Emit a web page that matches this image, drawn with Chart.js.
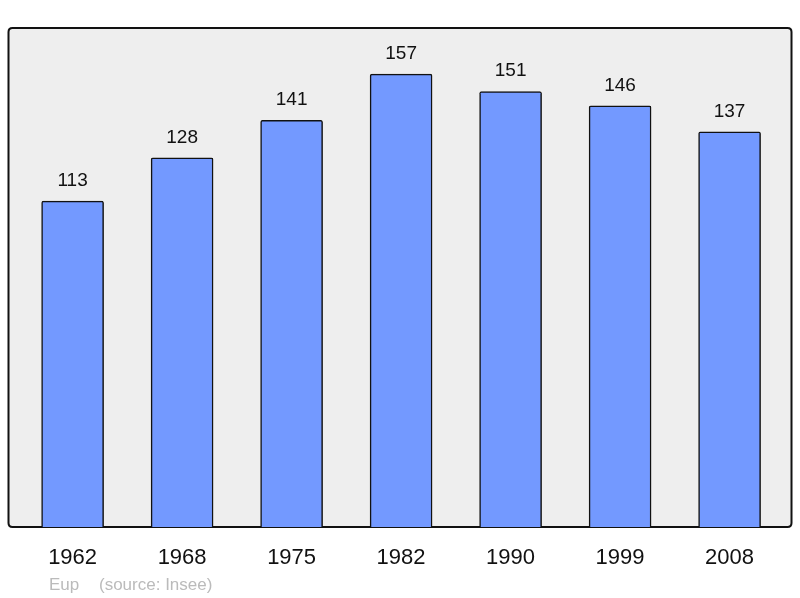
<!DOCTYPE html>
<html>
<head>
<meta charset="utf-8">
<script src="https://cdn.jsdelivr.net/npm/chart.js@4/dist/chart.umd.min.js"></script>
<style>
  html, body { margin: 0; padding: 0; background: #ffffff; }
  #wrap { width: 800px; height: 598px; }
</style>
</head>
<body>
<div id="wrap"><canvas id="c" width="800" height="598"></canvas></div>
<script>
const years = ['1962', '1968', '1975', '1982', '1990', '1999', '2008'];
const population = [113, 128, 141, 157, 151, 146, 137];
const footerName = 'Eup';
const footerSource = '(source: Insee)';

const FONT = '"Liberation Sans", Arial, sans-serif';

const boxPlugin = {
  id: 'box',
  beforeDatasetsDraw(chart) {
    const { ctx, chartArea: a } = chart;
    ctx.save();
    const x = a.left + 0.5, y = a.top, w = a.right - a.left - 1, h = a.bottom - a.top, r = 4;
    ctx.beginPath();
    ctx.moveTo(x + r, y);
    ctx.lineTo(x + w - r, y);
    ctx.quadraticCurveTo(x + w, y, x + w, y + r);
    ctx.lineTo(x + w, y + h - r);
    ctx.quadraticCurveTo(x + w, y + h, x + w - r, y + h);
    ctx.lineTo(x + r, y + h);
    ctx.quadraticCurveTo(x, y + h, x, y + h - r);
    ctx.lineTo(x, y + r);
    ctx.quadraticCurveTo(x, y, x + r, y);
    ctx.closePath();
    ctx.fillStyle = '#eeeeee';
    ctx.fill();
    ctx.lineWidth = 2;
    ctx.strokeStyle = '#111111';
    ctx.stroke();
    ctx.restore();
  },
  afterDatasetsDraw(chart) {
    const { ctx } = chart;
    const meta = chart.getDatasetMeta(0);
    ctx.save();
    ctx.font = '19px ' + FONT;
    ctx.fillStyle = '#111111';
    ctx.textAlign = 'center';
    ctx.textBaseline = 'alphabetic';
    meta.data.forEach((bar, i) => {
      ctx.fillText(String(population[i]), bar.x, bar.y - 15);
    });
    ctx.font = '17px ' + FONT;
    ctx.fillStyle = '#bbbbbb';
    ctx.textAlign = 'left';
    ctx.fillText(footerName, chart.chartArea.left + 41, 590);
    ctx.fillText(footerSource, chart.chartArea.left + 91, 590);
    ctx.restore();
  }
};

new Chart(document.getElementById('c'), {
  type: 'bar',
  data: {
    datasets: [{
      data: population.map((v, i) => ({ x: i, y: v })),
      backgroundColor: '#7399ff',
      borderColor: '#111111',
      borderWidth: 1.5,
      borderSkipped: 'bottom',
      borderRadius: 2,
      barThickness: 62
    }]
  },
  options: {
    responsive: false,
    animation: false,
    devicePixelRatio: 1,
    layout: { padding: { left: 8, right: 8, top: 28, bottom: 0 } },
    plugins: { legend: { display: false }, tooltip: { enabled: false } },
    scales: {
      x: {
        type: 'linear',
        offset: false,
        min: -0.59,
        max: 6.57,
        grid: { display: false, drawTicks: false, offset: false },
        border: { display: false },
        afterFit(scale) { scale.height = 71; },
        ticks: {
          stepSize: 1,
          includeBounds: false,
          autoSkip: false,
          maxRotation: 0,
          padding: 18,
          color: '#111111',
          font: { family: FONT, size: 22 },
          callback: (v) => (Number.isInteger(v) && years[v] !== undefined) ? years[v] : ''
        }
      },
      y: {
        display: false,
        min: 0,
        max: 173
      }
    }
  },
  plugins: [boxPlugin]
});
</script>
</body>
</html>
